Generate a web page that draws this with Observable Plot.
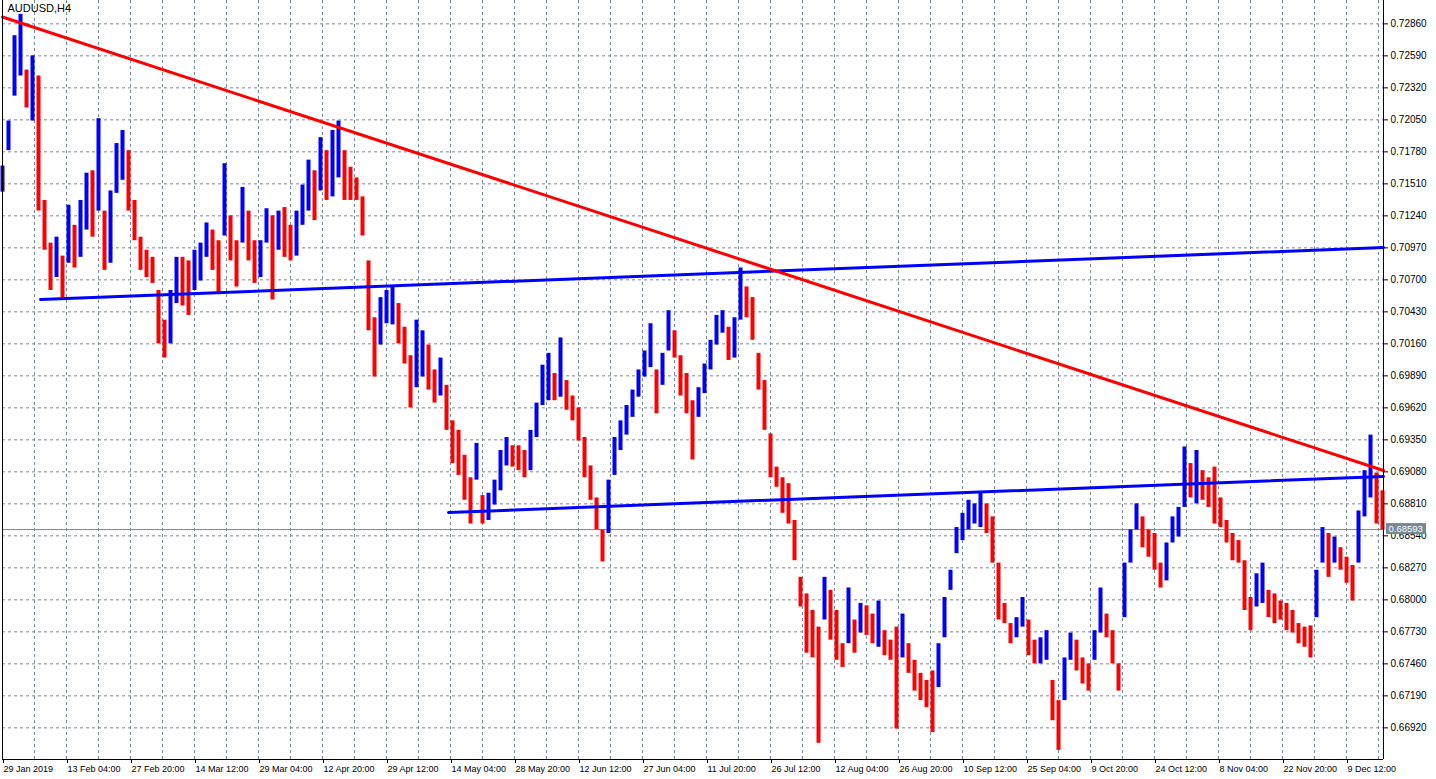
<!DOCTYPE html>
<html><head><meta charset="utf-8">
<script src="https://cdn.jsdelivr.net/npm/d3@7"></script>
<script src="https://cdn.jsdelivr.net/npm/@observablehq/plot@0.6"></script>
<style>
body{margin:0;background:#fff;}
#chart svg{display:block;}
</style>
</head><body><div id="chart"></div>
<script>
// ---- data ----
const symbolName = "AUDUSD,H4";
const barsPerDay = 6; // H4 bars per trading day
const dayHighs = [
0.7166,0.7204,0.7276,0.7294,0.7247,0.7259,0.7242,0.7137,0.7101,0.7106,
0.7090,0.7133,0.7116,0.7137,0.7160,0.7162,0.7206,0.7128,0.7145,0.7185,
0.7196,0.7179,0.7137,0.7106,0.7095,0.7089,0.7061,0.7036,0.7061,0.7089,
0.7089,0.7086,0.7095,0.7101,0.7118,0.7112,0.7103,0.7168,0.7124,0.7103,
0.7148,0.7128,0.7103,0.7103,0.7130,0.7124,0.7128,0.7131,0.7116,0.7128,
0.7150,0.7171,0.7162,0.7190,0.7179,0.7196,0.7204,0.7179,0.7165,0.7156,
0.7140,0.7086,0.7038,0.7055,0.7061,0.7065,0.7050,0.7030,0.7006,0.7036,
0.7027,0.7015,0.6994,0.7004,0.6981,0.6951,0.6943,0.6922,0.6903,0.6932,
0.6888,0.6890,0.6901,0.6926,0.6937,0.6930,0.6930,0.6926,0.6943,0.6966,
0.6998,0.7008,0.6991,0.7021,0.6985,0.6972,0.6962,0.6937,0.6913,0.6886,
0.6859,0.6901,0.6937,0.6951,0.6964,0.6977,0.6994,0.7010,0.7033,0.6994,
0.7008,0.7044,0.7027,0.7006,0.6991,0.6968,0.6979,0.6999,0.7019,0.7040,
0.7044,0.7030,0.7038,0.7080,0.7064,0.7055,0.7008,0.6985,0.6940,0.6912,
0.6903,0.6898,0.6867,0.6819,0.6805,0.6791,0.6777,0.6819,0.6808,0.6791,
0.6763,0.6810,0.6783,0.6797,0.6795,0.6788,0.6799,0.6774,0.6766,0.6777,
0.6788,0.6763,0.6749,0.6738,0.6732,0.6740,0.6763,0.6802,0.6825,0.6861,
0.6873,0.6884,0.6881,0.6890,0.6881,0.6870,0.6831,0.6797,0.6780,0.6785,
0.6802,0.6783,0.6766,0.6768,0.6774,0.6732,0.6715,0.6751,0.6772,0.6766,
0.6751,0.6746,0.6774,0.6810,0.6788,0.6774,0.6746,0.6831,0.6859,0.6881,
0.6870,0.6859,0.6856,0.6831,0.6848,0.6870,0.6878,0.6929,0.6915,0.6926,
0.6909,0.6903,0.6912,0.6886,0.6867,0.6856,0.6850,0.6833,0.6802,0.6822,
0.6831,0.6808,0.6805,0.6799,0.6797,0.6791,0.6780,0.6777,0.6778,0.6825,
0.6861,0.6856,0.6853,0.6844,0.6836,0.6829,0.6875,0.6909,0.6939,0.6907,
0.6892
];
const dayLows = [
0.7144,0.7179,0.7225,0.7242,0.7215,0.7204,0.7128,0.7095,0.7061,0.7072,
0.7055,0.7084,0.7080,0.7089,0.7112,0.7106,0.7128,0.7078,0.7084,0.7143,
0.7154,0.7128,0.7103,0.7078,0.7072,0.7067,0.7016,0.7004,0.7016,0.7050,
0.7048,0.7040,0.7061,0.7069,0.7089,0.7078,0.7059,0.7107,0.7086,0.7064,
0.7101,0.7086,0.7067,0.7072,0.7101,0.7053,0.7095,0.7089,0.7086,0.7090,
0.7116,0.7128,0.7120,0.7145,0.7137,0.7140,0.7156,0.7137,0.7137,0.7137,
0.7107,0.7027,0.6988,0.7015,0.7033,0.7032,0.7016,0.6999,0.6962,0.6979,
0.6988,0.6977,0.6966,0.6972,0.6943,0.6915,0.6905,0.6884,0.6864,0.6901,
0.6864,0.6867,0.6880,0.6892,0.6913,0.6912,0.6909,0.6903,0.6909,0.6937,
0.6964,0.6968,0.6968,0.6971,0.6960,0.6951,0.6934,0.6903,0.6884,0.6859,
0.6832,0.6856,0.6905,0.6926,0.6939,0.6954,0.6971,0.6988,0.6996,0.6957,
0.6981,0.7010,0.7004,0.6972,0.6957,0.6918,0.6954,0.6974,0.6994,0.7015,
0.7025,0.7002,0.7004,0.7036,0.7038,0.7019,0.6977,0.6943,0.6903,0.6895,
0.6873,0.6864,0.6833,0.6794,0.6755,0.6751,0.6679,0.6783,0.6766,0.6749,
0.6743,0.6763,0.6755,0.6772,0.6770,0.6763,0.6760,0.6753,0.6749,0.6691,
0.6751,0.6738,0.6723,0.6715,0.6709,0.6688,0.6726,0.6768,0.6808,0.6839,
0.6850,0.6859,0.6864,0.6861,0.6856,0.6831,0.6783,0.6780,0.6763,0.6768,
0.6777,0.6753,0.6746,0.6746,0.6749,0.6698,0.6673,0.6715,0.6749,0.6740,
0.6729,0.6723,0.6749,0.6772,0.6768,0.6746,0.6723,0.6785,0.6831,0.6859,
0.6844,0.6836,0.6825,0.6810,0.6816,0.6848,0.6853,0.6878,0.6886,0.6881,
0.6884,0.6878,0.6864,0.6861,0.6848,0.6833,0.6831,0.6791,0.6774,0.6794,
0.6797,0.6785,0.6780,0.6783,0.6774,0.6772,0.6763,0.6760,0.6751,0.6785,
0.6831,0.6819,0.6831,0.6825,0.6814,0.6799,0.6831,0.6870,0.6886,0.6864,
0.6859
];
const lastPrice = 0.68593;
const priceTicks = [0.66920,0.67190,0.67460,0.67730,0.68000,0.68270,0.68540,0.68810,0.69080,0.69350,0.69620,0.69890,0.70160,0.70430,0.70700,0.70970,0.71240,0.71510,0.71780,0.72050,0.72320,0.72590,0.72860];
const dateLabels = ["29 Jan 2019","13 Feb 04:00","27 Feb 20:00","14 Mar 12:00","29 Mar 04:00","12 Apr 20:00","29 Apr 12:00","14 May 04:00","28 May 20:00","12 Jun 12:00","27 Jun 04:00","11 Jul 20:00","26 Jul 12:00","12 Aug 04:00","26 Aug 20:00","10 Sep 12:00","25 Sep 04:00","9 Oct 20:00","24 Oct 12:00","8 Nov 04:00","22 Nov 20:00","9 Dec 12:00"];
const barsPerDateLabel = 64;
const barsPerGridLine = 32;
const totalBars = 1381;
const priceDomain = [0.66653, 0.73057];
// trend lines: [bar index, price]
const redTrend = [[0, 0.72918], [1381, 0.69091]];
const blueUpper = [[38, 0.70534], [1381, 0.70973]];
const blueLower = [[446, 0.68737], [1381, 0.69041]];

// ---- build ----
const days = dayHighs.map((h, i) => ({bar: i * barsPerDay, high: h, low: dayLows[i], mid: (h + dayLows[i]) / 2}));
days.forEach((d, i) => { d.up = i === 0 ? true : d.mid >= days[i - 1].mid; });
const dateTicks = dateLabels.map((_, i) => i * barsPerDateLabel);
const gridTicks = d3.range(barsPerGridLine, totalBars, barsPerGridLine);

const W = 1436, H = 779;
const FONT = "Liberation Sans, Arial, sans-serif";
const GRID = "#778899";

const plot = Plot.plot({
  width: W, height: H,
  marginLeft: 2, marginRight: 53, marginTop: 0, marginBottom: 20,
  style: {fontFamily: FONT, fontSize: "10px", color: "#000", background: "#fff"},
  x: {domain: [0, totalBars], label: null},
  y: {domain: priceDomain, label: null},
  marks: [
    Plot.gridY(priceTicks, {stroke: GRID, strokeOpacity: 1, strokeDasharray: "3,3"}),
    Plot.gridX(gridTicks, {stroke: GRID, strokeOpacity: 1, strokeDasharray: "3,3"}),
    Plot.ruleY([lastPrice], {stroke: GRID, strokeWidth: 1}),
    Plot.ruleX(days.filter(d => !d.up), {x: "bar", y1: "low", y2: "high", stroke: "#ff0000", strokeWidth: 4}),
    Plot.ruleX(days.filter(d => d.up), {x: "bar", y1: "low", y2: "high", stroke: "#0000ff", strokeWidth: 4}),
    Plot.line(blueUpper, {x: d => d[0], y: d => d[1], stroke: "#0000ff", strokeWidth: 3}),
    Plot.line(blueLower, {x: d => d[0], y: d => d[1], stroke: "#0000ff", strokeWidth: 3}),
    Plot.line(redTrend, {x: d => d[0], y: d => d[1], stroke: "#ff0000", strokeWidth: 3}),
    Plot.ruleX([0, totalBars], {stroke: "#000", strokeWidth: 1}),
    Plot.ruleY([priceDomain[0]], {stroke: "#000", strokeWidth: 1}),
    Plot.axisY(priceTicks, {anchor: "right", label: null, tickSize: 4, tickPadding: 3, tickFormat: d => d.toFixed(5), fill: "#000", stroke: "#000", fontSize: 10}),
    Plot.axisX(dateTicks, {anchor: "bottom", label: null, tickSize: 4, tickPadding: 2, tickFormat: (d, i) => dateLabels[i], textAnchor: "start", dx: 1, fill: "#000", stroke: "#000", fontSize: 9}),
    // current price tag
    Plot.rect([lastPrice], {x1: totalBars, x2: totalBars, y1: d => d, y2: d => d, insetLeft: 3, insetRight: -43, insetTop: -6, insetBottom: -5, fill: GRID}),
    Plot.text([lastPrice], {x: totalBars, y: d => d, text: d => d.toFixed(5), dx: 5, dy: -1, textAnchor: "start", fill: "#fff", fontSize: 9.5}),
    Plot.text([symbolName], {frameAnchor: "top-left", dx: 5, dy: 4, textAnchor: "start", lineAnchor: "top", fill: "#000", fontSize: 11})
  ]
});
document.getElementById("chart").appendChild(plot);
</script>
</body></html>
